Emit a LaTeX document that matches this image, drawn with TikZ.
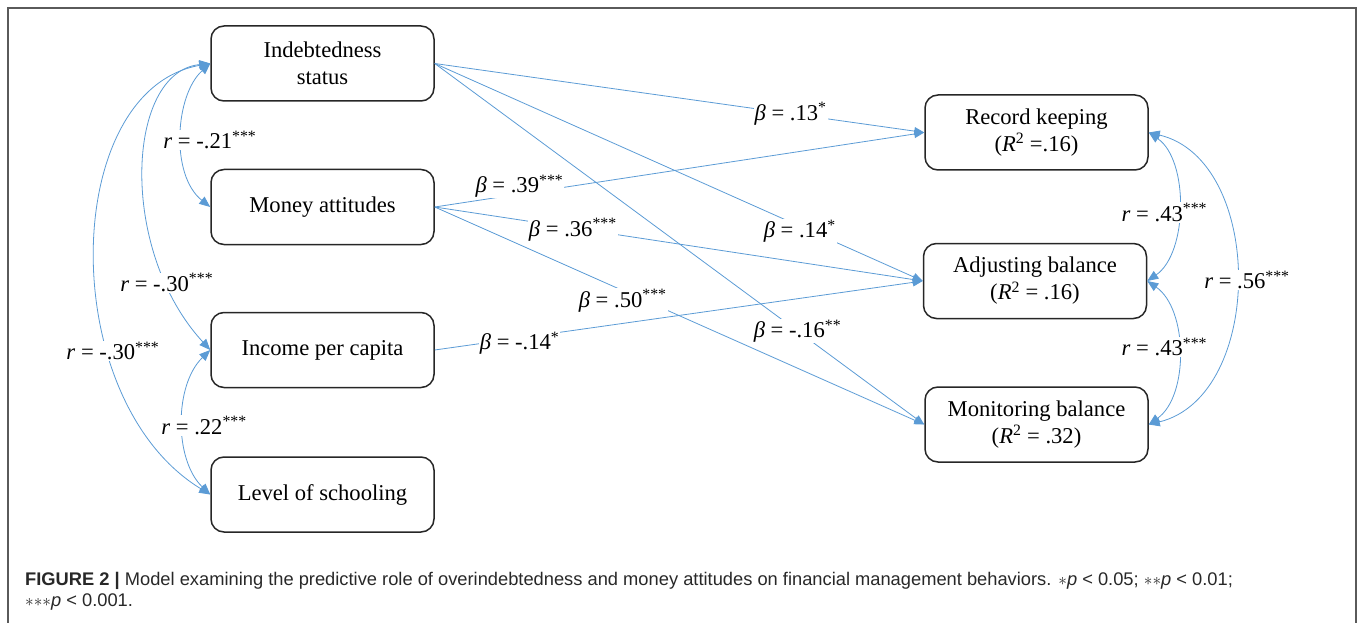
\documentclass[tikz,border=0pt]{standalone}
\usepackage{fontspec}
\setmainfont{Liberation Serif}
\newfontfamily\capfont{Liberation Sans}
\usetikzlibrary{arrows.meta}
\definecolor{lblue}{RGB}{91,155,213}
\definecolor{framegray}{RGB}{90,90,90}
\definecolor{captext}{RGB}{40,40,40}
\begin{document}
\begin{tikzpicture}[x=1pt,y=-1pt,
  box/.style={draw=black!85, line width=1.5pt, rounded corners=13pt, minimum width=223pt, minimum height=75pt, align=center, font=\fontsize{22.6}{27}\selectfont, inner sep=0pt},
  regarrow/.style={draw=lblue, line width=0.8pt, -{Triangle[length=10pt,width=8pt]}},
  cov/.style={draw=lblue, line width=0.8pt, {Triangle[length=11pt,width=9pt]}-{Triangle[length=11pt,width=9pt]}},
  lab/.style={fill=white, inner sep=1pt, font=\fontsize{22.6}{26}\selectfont},
  capline/.style={anchor=base west, inner sep=0pt, text=captext, font=\capfont\fontsize{18.3}{21}\selectfont},
]
\useasboundingbox (0,0) rectangle (1358,623);
\draw[framegray, line width=1.3pt] (8,623) -- (8,8) -- (1356,8) -- (1356,623);

% nodes
\node[box] (ind) at (322.5,63.5) {Indebtedness\\status};
\node[box] (mon) at (322.5,207) {Money attitudes};
\node[box] (inc) at (322.5,350) {Income per capita};
\node[box] (sch) at (322.5,494.5) {Level of schooling};
\node[box] (rk) at (1036.5,132.5) {Record keeping\\(\textit{R}\textsuperscript{2} =.16)};
\node[box] (ab) at (1035,281) {Adjusting balance\\(\textit{R}\textsuperscript{2} = .16)};
\node[box] (mb) at (1036.5,424.5) {Monitoring balance\\(\textit{R}\textsuperscript{2} = .32)};

% regression paths
\draw[regarrow] (ind.east) -- node[lab,pos=0.727]{\textit{β} = .13\textsuperscript{*}} (rk.west);
\draw[regarrow] (ind.east) -- node[lab,pos=0.748,yshift=-5pt]{\textit{β} = .14\textsuperscript{*}} (ab.west);
\draw[regarrow] (ind.east) -- node[lab,pos=0.741]{\textit{β} = -.16\textsuperscript{**}} (mb.west);
\draw[regarrow] (mon.east) -- node[lab,pos=0.173,yshift=8pt]{\textit{β} = .39\textsuperscript{***}} (rk.west);
\draw[regarrow] (mon.east) -- node[lab,pos=0.283,yshift=-2pt]{\textit{β} = .36\textsuperscript{***}} (ab.west);
\draw[regarrow] (mon.east) -- node[lab,pos=0.384,yshift=-10pt]{\textit{β} = .50\textsuperscript{***}} (mb.west);
\draw[regarrow] (inc.east) -- node[lab,pos=0.174,yshift=-5pt]{\textit{β} = -.14\textsuperscript{*}} (ab.west);

% covariances, left
\draw[cov] (ind.west) .. controls (175,95) and (170,175) .. node[lab,pos=0.5,xshift=28pt,yshift=-5pt]{\textit{r} = -.21\textsuperscript{***}} (mon.west);
\draw[cov] (ind.west) .. controls (126,72) and (118,250) .. node[lab,pos=0.8]{\textit{r} = -.30\textsuperscript{***}} (inc.west);
\draw[cov] (ind.west) .. controls (60,90) and (55,400) .. node[lab,pos=0.68,xshift=3pt,yshift=3pt]{\textit{r} = -.30\textsuperscript{***}} (sch.west);
\draw[cov] (inc.west) .. controls (174,385) and (174,460) .. node[lab,pos=0.5,xshift=21pt,yshift=-3pt]{\textit{r} = .22\textsuperscript{***}} (sch.west);

% covariances, right
\draw[cov] (rk.east) .. controls (1189,160) and (1188,253) .. node[lab,pos=0.5,xshift=-14pt,yshift=-6pt]{\textit{r} = .43\textsuperscript{***}} (ab.east);
\draw[cov] (ab.east) .. controls (1188,309) and (1189,396) .. node[lab,pos=0.5,xshift=-14pt,yshift=5.5pt]{\textit{r} = .43\textsuperscript{***}} (mb.east);
\draw[cov] (rk.east) .. controls (1265,160) and (1265,396) .. node[lab,pos=0.5,xshift=11pt,yshift=-2pt]{\textit{r} = .56\textsuperscript{***}} (mb.east);

% caption
\node[capline] (cap1) at (25,585) {\textbf{FIGURE 2 |} Model examining the predictive role of overindebtedness and money attitudes on financial management behaviors. ${\ast}$\textit{p} < 0.05; ${\ast}{\ast}$\textit{p} < 0.01;};
\node[capline] (cap2) at (25,606) {${\ast}{\ast}{\ast}$\textit{p} < 0.001.};
\end{tikzpicture}
\end{document}
